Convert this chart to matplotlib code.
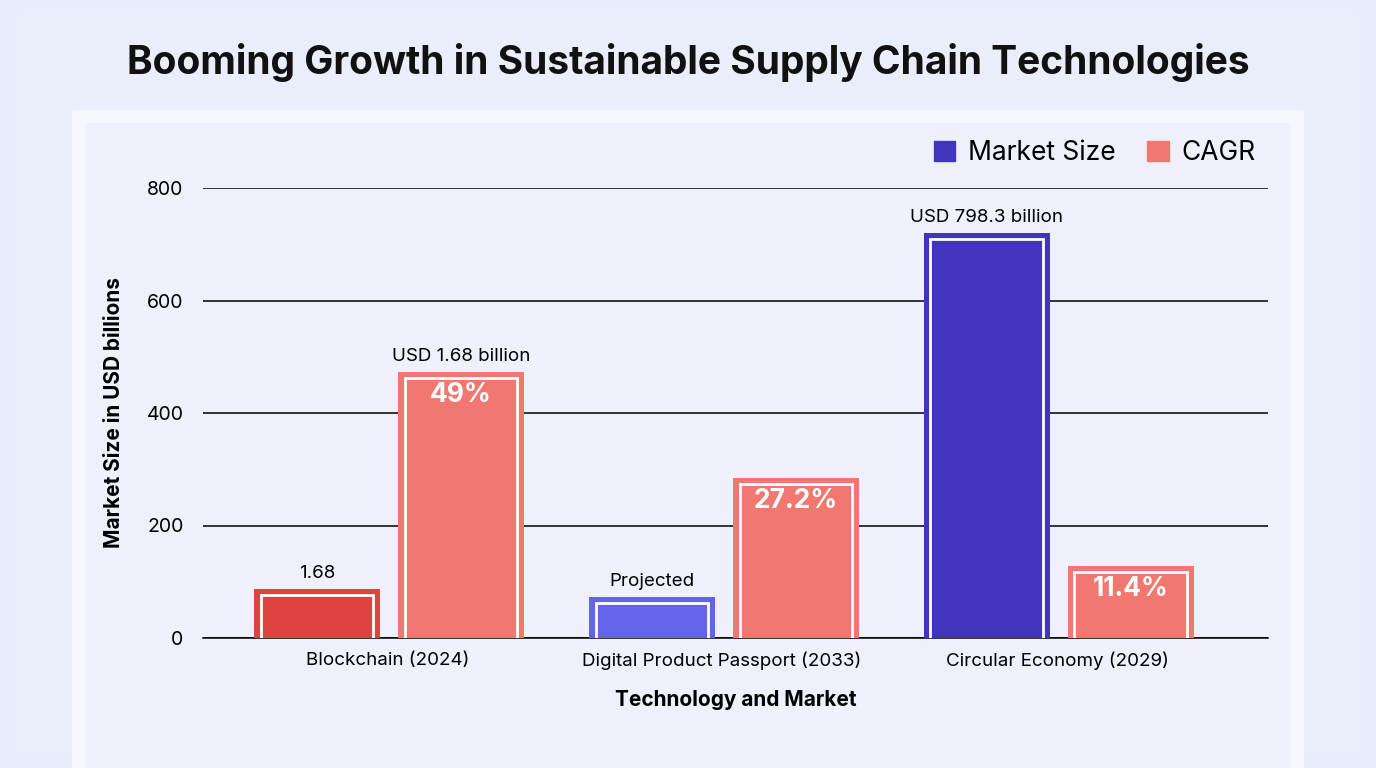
import matplotlib.pyplot as plt
from matplotlib.patches import FancyBboxPatch, Rectangle, Patch
import numpy as np

plt.rcParams['font.family'] = ['Inter', 'DejaVu Sans']

categories = ['Blockchain (2024)', 'Digital Product Passport (2033)', 'Circular Economy (2029)']
market_size = [87, 73, 720]
cagr_height = [473, 284, 128]
cagr_labels = ['49%', '27.2%', '11.4%']
market_notes = ['1.68', 'Projected', 'USD 798.3 billion']
cagr_notes = ['USD 1.68 billion', '', '']
market_colors = ['#e04141', '#6464ea', '#4234bd']
cagr_color = '#f07870'

fig = plt.figure(figsize=(13.76, 7.68), dpi=100)
fig.patch.set_facecolor('#e8edfb')
fig.patches.append(FancyBboxPatch((0.013, 0.02), 0.974, 0.965, boxstyle='round,pad=0,rounding_size=0.01',
                                  transform=fig.transFigure, facecolor='#eaeefb', edgecolor='none', zorder=-3))
fig.patches.append(Rectangle((0.052, 0.0), 0.896, 0.857, transform=fig.transFigure,
                             facecolor='#f7f8fe', edgecolor='none', zorder=-2))
fig.patches.append(Rectangle((0.062, 0.0), 0.876, 0.84, transform=fig.transFigure,
                             facecolor='#eef1fc', edgecolor='none', zorder=-1))

fig.text(0.5, 0.918, 'Booming Growth in Sustainable Supply Chain Technologies',
         ha='center', va='center', fontsize=28, fontweight='bold', color='#111111')

ax = fig.add_axes([203 / 1376, 1 - 638 / 768, (1268 - 203) / 1376, 450 / 768])
ax.set_facecolor('none')
x = np.arange(len(categories))
w = 0.376
off_m, off_c = -0.21, 0.22

for i in range(len(categories)):
    ax.bar(x[i] + off_m, market_size[i], w, color=market_colors[i], zorder=3)
    ax.bar(x[i] + off_c, cagr_height[i], w, color=cagr_color, zorder=3)
    # inner white outlines
    for xc, h in [(x[i] + off_m, market_size[i]), (x[i] + off_c, cagr_height[i])]:
        ax.add_patch(Rectangle((xc - w / 2 + 0.02, -5), w - 0.04, h - 10 + 5, fill=False,
                               edgecolor='white', lw=2, zorder=4))
    ax.text(x[i] + off_m, market_size[i] + 12, market_notes[i], ha='center', va='bottom', fontsize=13.5, zorder=5)
    if cagr_notes[i]:
        ax.text(x[i] + off_c, cagr_height[i] + 12, cagr_notes[i], ha='center', va='bottom', fontsize=13.5, zorder=5)
    ax.text(x[i] + off_c, cagr_height[i] - 18, cagr_labels[i], ha='center', va='top', fontsize=19,
            fontweight='bold', color='white', zorder=5)

ax.set_xlim(-0.55, 2.63)
ax.set_ylim(0, 800)
ax.set_yticks([0, 200, 400, 600, 800])
ax.set_xticks(x)
ax.set_xticklabels(categories, fontsize=13.5)
ax.tick_params(axis='y', labelsize=14, length=0, pad=14)
ax.tick_params(axis='x', length=0, pad=10)
ax.grid(axis='y', color='black', lw=1.1, zorder=0)
for s in ['top', 'right', 'left']:
    ax.spines[s].set_visible(False)
ax.spines['bottom'].set_linewidth(1.1)
ax.set_xlabel('Technology and Market', fontsize=15, fontweight='bold', labelpad=14)
ax.set_ylabel('Market Size in USD billions', fontsize=15, fontweight='bold', labelpad=16)

handles = [Patch(color='#4234bd', label='Market Size'), Patch(color=cagr_color, label='CAGR')]
fig.legend(handles=handles, loc='center right', bbox_to_anchor=(0.93, 0.801), ncol=2, frameon=False,
           fontsize=19, handlelength=0.8, handleheight=0.8, columnspacing=1.2, handletextpad=0.5)

fig.savefig('out.png', dpi=100, facecolor=fig.get_facecolor())
